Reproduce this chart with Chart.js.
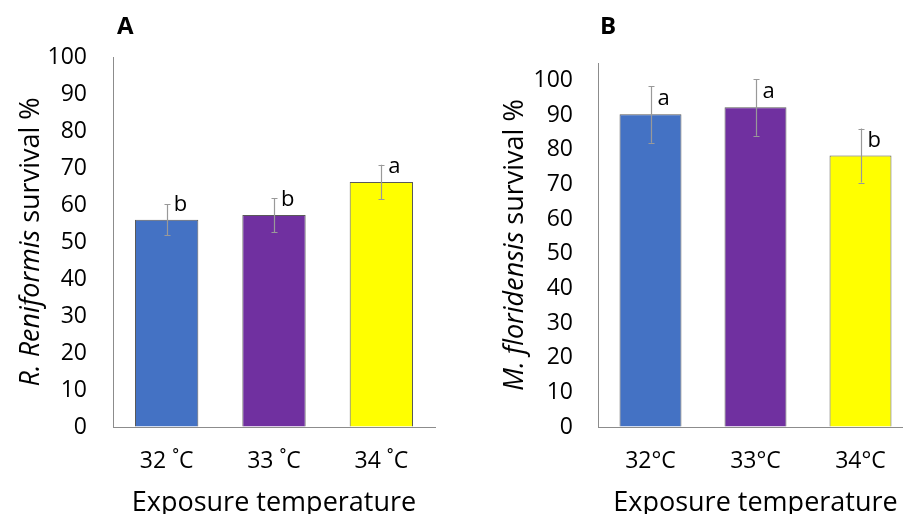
<!DOCTYPE html>
<html>
<head>
<meta charset="utf-8">
<script src="https://cdn.jsdelivr.net/npm/chart.js@4.4.1/dist/chart.umd.min.js"></script>
<style>
  html, body { margin: 0; padding: 0; background: #fff; overflow: hidden; }
  body { width: 903px; height: 514px; position: relative; }
  canvas { position: absolute; top: 0; }
  #panelA { left: 0; }
  #panelB { left: 450px; }
</style>
</head>
<body>
<canvas id="panelA" width="450" height="514"></canvas>
<canvas id="panelB" width="480" height="514"></canvas>
<script>
// panel A: R. reniformis
const categoriesA = ["32 \u02daC", "33 \u02daC", "34 \u02daC"];
const survivalA = [56, 57.3, 66.2];
const errorA = [4.2, 4.6, 4.7];
const lettersA = ["b", "b", "a"];

// panel B: M. floridensis
const categoriesB = ["32\u00b0C", "33\u00b0C", "34\u00b0C"];
const survivalB = [90.2, 92.2, 78.3];
const errorB = [8.2, 8.2, 7.8];
const lettersB = ["a", "a", "b"];

const yTicks = [0, 10, 20, 30, 40, 50, 60, 70, 80, 90, 100];

const barColors = ["#4472C4", "#7030A0", "#FFFF00"];
const FONT = "'Open Sans', sans-serif";

// error bars + significance letters
const extrasPlugin = {
  id: "extras",
  afterDatasetsDraw(chart, args, opts) {
    const ctx = chart.ctx;
    const y = chart.scales.y;
    const meta = chart.getDatasetMeta(0);
    const vals = chart.data.datasets[0].data;
    ctx.save();
    ctx.strokeStyle = "#999999";
    ctx.lineWidth = 1.2;
    meta.data.forEach((bar, i) => {
      const x = Math.round(bar.x) + 0.5;
      const top = y.getPixelForValue(vals[i] + opts.errors[i]);
      const bot = y.getPixelForValue(vals[i] - opts.errors[i]);
      ctx.beginPath();
      ctx.moveTo(x, top);
      ctx.lineTo(x, bot);
      ctx.moveTo(x - 3, Math.round(top) + 0.5);
      ctx.lineTo(x + 3, Math.round(top) + 0.5);
      ctx.moveTo(x - 3, Math.round(bot) + 0.5);
      ctx.lineTo(x + 3, Math.round(bot) + 0.5);
      ctx.stroke();
    });
    ctx.fillStyle = "#000";
    ctx.font = "22px " + FONT;
    ctx.textAlign = "left";
    ctx.textBaseline = "alphabetic";
    meta.data.forEach((bar, i) => {
      ctx.fillText(opts.letters[i], bar.x + 7, bar.y - 9);
    });
    ctx.restore();
  },
  afterDraw(chart, args, opts) {
    const ctx = chart.ctx;
    const area = chart.chartArea;
    ctx.save();
    ctx.fillStyle = "#000";
    // panel letter
    ctx.font = "bold 24px " + FONT;
    ctx.textAlign = "left";
    ctx.textBaseline = "alphabetic";
    ctx.fillText(opts.panel, opts.panelX, 34);
    // x title
    ctx.font = "27px " + FONT;
    ctx.textAlign = "center";
    ctx.fillText("Exposure temperature", (area.left + area.right) / 2, 511);
    // y title, italic species name
    const parts = [
      { t: opts.species, f: "italic 27px " + FONT },
      { t: " survival %", f: "27px " + FONT }
    ];
    let total = 0;
    parts.forEach(p => { ctx.font = p.f; p.w = ctx.measureText(p.t).width; total += p.w; });
    ctx.translate(opts.titleX, (area.top + area.bottom) / 2);
    ctx.rotate(-Math.PI / 2);
    ctx.textAlign = "left";
    ctx.textBaseline = "middle";
    let pos = -total / 2;
    parts.forEach(p => { ctx.font = p.f; ctx.fillText(p.t, pos, 0); pos += p.w; });
    ctx.restore();
  }
};

function makeChart(id, labels, values, errors, letters, cfg) {
  return new Chart(document.getElementById(id), {
    type: "bar",
    data: {
      labels: labels,
      datasets: [{
        data: values,
        backgroundColor: barColors,
        borderColor: "#595959",
        borderWidth: 1,
        barPercentage: 0.59,
        categoryPercentage: 1
      }]
    },
    options: {
      responsive: false,
      animation: false,
      devicePixelRatio: 1,
      layout: { padding: { top: cfg.top, right: cfg.right, left: 0, bottom: 0 } },
      plugins: {
        legend: { display: false },
        tooltip: { enabled: false },
        extras: { errors: errors, letters: letters, panel: cfg.panel, panelX: cfg.panelX, species: cfg.species, titleX: cfg.titleX }
      },
      scales: {
        x: {
          grid: { display: true, drawOnChartArea: false, drawTicks: false },
          border: { color: "#8c8c8c", width: 1 },
          ticks: { color: "#000", font: { family: FONT, size: 23 }, padding: 21, maxRotation: 0 },
          afterFit: s => { s.height = 87; }
        },
        y: {
          min: 0,
          max: cfg.max,
          grid: { display: true, drawOnChartArea: false, drawTicks: false },
          border: { color: "#8c8c8c", width: 1 },
          ticks: { color: "#000", font: { family: FONT, size: 23 }, padding: cfg.tickPad },
          afterBuildTicks: s => { s.ticks = yTicks.map(v => ({ value: v })); },
          afterFit: s => { s.width = cfg.axisW; }
        }
      }
    },
    plugins: [extrasPlugin]
  });
}

makeChart("panelA", categoriesA, survivalA, errorA, lettersA,
  { top: 57, right: 15, max: 100, axisW: 113, tickPad: 26, panel: "A", panelX: 117, species: "R. Reniformis", titleX: 31 });
makeChart("panelB", categoriesB, survivalB, errorB, lettersB,
  { top: 63, right: 17, max: 105, axisW: 148, tickPad: 25, panel: "B", panelX: 150, species: "M. floridensis", titleX: 65 });
</script>
</body>
</html>
